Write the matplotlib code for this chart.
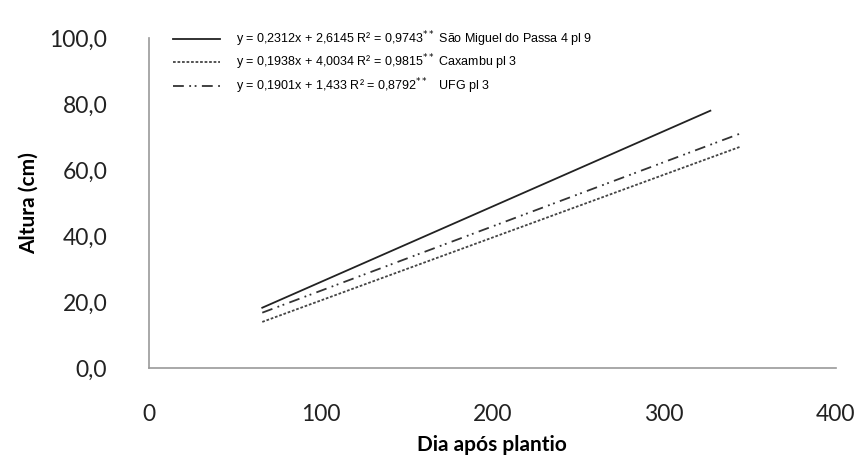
import matplotlib.pyplot as plt
from matplotlib.ticker import FuncFormatter

# line endpoints (day, height in cm)
sm_x = [66, 327]
sm_y = [18.3, 78.0]
cax_x = [66, 344]
cax_y = [14.0, 67.0]
ufg_x = [66, 344]
ufg_y = [16.8, 71.0]

labels = [
    "y = 0,2312x + 2,6145 R² = 0,9743$^{**}$ São Miguel do Passa 4 pl 9",
    "y = 0,1938x + 4,0034 R² = 0,9815$^{**}$ Caxambu pl 3",
    "y = 0,1901x + 1,433 R² = 0,8792$^{**}$   UFG pl 3",
]

fig = plt.figure(figsize=(8.66, 4.59), dpi=100)
ax = fig.add_axes([0.172, 0.198, 0.793, 0.719])

ax.plot(sm_x, sm_y, color='#222222', lw=1.3, ls='-', label=labels[0])
ax.plot(cax_x, cax_y, color='#444444', lw=1.3, ls=(0, (1.5, 1)), label=labels[1])
ax.plot(ufg_x, ufg_y, color='#333333', lw=1.3, ls=(0, (6, 3, 1, 2, 1, 3)), label=labels[2])

ax.set_xlim(0, 400)
ax.set_ylim(0, 100)
ax.set_xticks([0, 100, 200, 300, 400])
ax.set_yticks([0, 20, 40, 60, 80, 100])
ax.yaxis.set_major_formatter(FuncFormatter(lambda v, p: f"{v:.1f}".replace('.', ',')))

for s in ['top', 'right']:
    ax.spines[s].set_visible(False)
for s in ['left', 'bottom']:
    ax.spines[s].set_color('#999999')
    ax.spines[s].set_linewidth(1.2)
ax.tick_params(length=0, labelsize=16.5, colors='#222222')
ax.tick_params(axis='x', pad=26)
ax.tick_params(axis='y', pad=30)
for t in ax.get_xticklabels() + ax.get_yticklabels():
    t.set_family('Lato')

ax.set_xlabel('Dia após plantio', fontsize=15, fontweight='bold', family='Lato', labelpad=7)
ax.set_ylabel('Altura (cm)', fontsize=15, fontweight='bold', family='Lato', labelpad=8)

leg = ax.legend(loc='upper left', bbox_to_anchor=(0.018, 1.06), frameon=False,
                prop={'family': 'Liberation Sans', 'size': 9},
                handlelength=3.8, handletextpad=1.3, labelspacing=0.3)

fig.savefig('out.png', dpi=100)
